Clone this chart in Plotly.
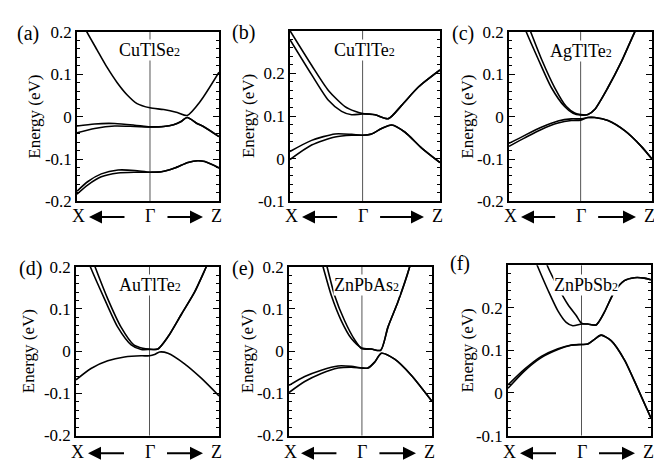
import plotly.graph_objects as go

# ------------------------------------------------------------------ data
PANEL_TAGS = ["(a)", "(b)", "(c)", "(d)", "(e)", "(f)"]
COMPOUNDS = ["CuTlSe", "CuTlTe", "AgTlTe", "AuTlTe", "ZnPbAs", "ZnPbSb"]
K_LABELS = ["X", "Γ", "Z"]
GAMMA_POS = [0.514, 0.484, 0.501, 0.514, 0.510, 0.514]
Y_RANGES = [(-0.2, 0.2), (-0.1, 0.3), (-0.2, 0.2), (-0.2, 0.2), (-0.2, 0.2), (-0.1, 0.3)]
Y_TICKVALS_A = [-0.2, -0.1, 0.0, 0.1, 0.2]
Y_TICKTEXT_A = ["-0.2", "-0.1", "0", "0.1", "0.2"]
Y_TICKVALS_B = [-0.1, 0.0, 0.1, 0.2, 0.3]
Y_TICKTEXT_B = ["-0.1", "0", "0.1", "0.2", ""]

# (a) CuTlSe2
a_cb_k = [0.0, 0.070, 0.141, 0.211, 0.282, 0.352, 0.423, 0.514, 0.61, 0.706, 0.776, 0.87, 1.0]
a_cb_e = [0.245, 0.2, 0.158, 0.117, 0.081, 0.052, 0.031, 0.021, 0.017, 0.010, 0.003, 0.037, 0.105]
a_v_k = [0.0, 0.124, 0.265, 0.406, 0.514, 0.61, 0.68, 0.73, 0.776, 0.845, 0.89, 1.0]
a_v1_e = [-0.022, -0.017, -0.016, -0.020, -0.024, -0.023, -0.019, -0.012, -0.002, -0.016, -0.023, -0.047]
a_v2_e = [-0.038, -0.028, -0.022, -0.023, -0.024, -0.023, -0.019, -0.012, -0.002, -0.016, -0.023, -0.047]
a_l_k = [0.0, 0.077, 0.171, 0.289, 0.406, 0.514, 0.594, 0.688, 0.782, 0.85, 0.9, 1.0]
a_l1_e = [-0.176, -0.153, -0.135, -0.126, -0.127, -0.131, -0.130, -0.121, -0.108, -0.104, -0.106, -0.121]
a_l2_e = [-0.183, -0.161, -0.142, -0.133, -0.131, -0.131, -0.130, -0.121, -0.108, -0.104, -0.106, -0.121]

# (b) CuTlTe2
b_c1_k = [0.0, 0.144, 0.256, 0.367, 0.433, 0.484, 0.567, 0.656, 0.744, 0.856, 1.0]
b_c1_e = [0.300, 0.219, 0.160, 0.122, 0.111, 0.106, 0.103, 0.094, 0.125, 0.168, 0.208]
b_c2_k = [0.0, 0.144, 0.256, 0.344, 0.411, 0.484, 0.567, 0.656, 0.744, 0.856, 1.0]
b_c2_e = [0.279, 0.197, 0.137, 0.111, 0.103, 0.105, 0.103, 0.094, 0.125, 0.168, 0.208]
b_v_k = [0.0, 0.144, 0.300, 0.411, 0.484, 0.544, 0.611, 0.678, 0.767, 0.878, 1.0]
b_v1_e = [0.017, 0.043, 0.058, 0.057, 0.055, 0.058, 0.071, 0.079, 0.062, 0.025, -0.009]
b_v2_e = [-0.002, 0.032, 0.051, 0.055, 0.055, 0.058, 0.071, 0.079, 0.062, 0.025, -0.009]

# (c) AgTlTe2
c_c1_k = [0.086, 0.121, 0.203, 0.296, 0.389, 0.448, 0.501, 0.552, 0.599, 0.692, 0.786, 0.879, 0.92]
c_c1_e = [0.23, 0.2, 0.137, 0.069, 0.024, 0.008, 0.004, 0.005, 0.017, 0.069, 0.130, 0.2, 0.227]
c_c2_k = [0.117, 0.152, 0.226, 0.319, 0.401, 0.459, 0.501, 0.552, 0.599, 0.692, 0.786, 0.879, 0.92]
c_c2_e = [0.23, 0.2, 0.137, 0.069, 0.024, 0.009, 0.005, 0.005, 0.017, 0.069, 0.130, 0.2, 0.227]
c_v_k = [0.0, 0.110, 0.226, 0.343, 0.436, 0.501, 0.552, 0.599, 0.692, 0.809, 0.925, 1.0]
c_v1_e = [-0.063, -0.044, -0.025, -0.010, -0.005, -0.005, -0.002, -0.002, -0.009, -0.033, -0.070, -0.100]
c_v2_e = [-0.070, -0.050, -0.030, -0.015, -0.009, -0.008, -0.002, -0.002, -0.009, -0.033, -0.070, -0.100]

# (d) AuTlTe2
d_c1_k = [0.070, 0.100, 0.199, 0.292, 0.386, 0.456, 0.514, 0.572, 0.643, 0.736, 0.829, 0.911, 0.946]
d_c1_e = [0.226, 0.2, 0.124, 0.057, 0.015, 0.004, 0.004, 0.005, 0.034, 0.087, 0.140, 0.2, 0.226]
d_c2_k = [0.105, 0.133, 0.222, 0.315, 0.404, 0.467, 0.514, 0.572, 0.643, 0.736, 0.829, 0.911, 0.946]
d_c2_e = [0.226, 0.2, 0.124, 0.057, 0.015, 0.007, 0.005, 0.005, 0.034, 0.087, 0.140, 0.2, 0.226]
d_v_k = [0.0, 0.105, 0.222, 0.339, 0.456, 0.514, 0.549, 0.584, 0.643, 0.759, 0.876, 1.0]
d_v_e = [-0.068, -0.041, -0.023, -0.014, -0.011, -0.011, -0.008, -0.002, -0.005, -0.030, -0.064, -0.106]

# (e) ZnPbAs2
e_c1_k = [0.226, 0.238, 0.296, 0.366, 0.436, 0.510, 0.576, 0.641, 0.692, 0.762, 0.844, 0.855]
e_c1_e = [0.214, 0.2, 0.132, 0.072, 0.030, 0.0075, 0.005, 0.002, 0.057, 0.117, 0.2, 0.215]
e_c2_k = [0.254, 0.266, 0.319, 0.389, 0.459, 0.510, 0.576, 0.641, 0.692, 0.762, 0.844, 0.855]
e_c2_e = [0.214, 0.2, 0.132, 0.072, 0.027, 0.0055, 0.005, 0.002, 0.057, 0.117, 0.2, 0.215]
e_v_k = [0.0, 0.110, 0.226, 0.343, 0.436, 0.510, 0.552, 0.599, 0.646, 0.739, 0.855, 1.0]
e_v1_e = [-0.081, -0.060, -0.045, -0.035, -0.036, -0.040, -0.040, -0.026, -0.005, -0.019, -0.057, -0.119]
e_v2_e = [-0.098, -0.072, -0.053, -0.040, -0.038, -0.040, -0.040, -0.026, -0.005, -0.019, -0.057, -0.119]

# (f) ZnPbSb2
f_c1_k = [0.191, 0.209, 0.279, 0.349, 0.407, 0.453, 0.514, 0.558, 0.616, 0.674, 0.744, 0.814, 0.884, 0.953, 1.0]
f_c1_e = [0.311, 0.296, 0.242, 0.193, 0.166, 0.158, 0.162, 0.162, 0.160, 0.190, 0.238, 0.264, 0.271, 0.270, 0.266]
f_c2_k = [0.263, 0.279, 0.349, 0.419, 0.477, 0.514, 0.558, 0.616, 0.674, 0.744, 0.814, 0.884, 0.953, 1.0]
f_c2_e = [0.311, 0.296, 0.249, 0.208, 0.182, 0.164, 0.162, 0.160, 0.190, 0.238, 0.264, 0.271, 0.270, 0.266]
f_v_k = [0.0, 0.116, 0.233, 0.349, 0.442, 0.514, 0.558, 0.605, 0.651, 0.721, 0.814, 0.907, 1.0]
f_v1_e = [0.019, 0.056, 0.086, 0.104, 0.113, 0.114, 0.115, 0.126, 0.136, 0.123, 0.078, 0.011, -0.059]
f_v2_e = [0.011, 0.052, 0.083, 0.102, 0.112, 0.114, 0.115, 0.126, 0.136, 0.123, 0.078, 0.011, -0.059]

BANDS = [
    [(a_cb_k, a_cb_e), (a_v_k, a_v1_e), (a_v_k, a_v2_e), (a_l_k, a_l1_e), (a_l_k, a_l2_e)],
    [(b_c1_k, b_c1_e), (b_c2_k, b_c2_e), (b_v_k, b_v1_e), (b_v_k, b_v2_e)],
    [(c_c1_k, c_c1_e), (c_c2_k, c_c2_e), (c_v_k, c_v1_e), (c_v_k, c_v2_e)],
    [(d_c1_k, d_c1_e), (d_c2_k, d_c2_e), (d_v_k, d_v_e)],
    [(e_c1_k, e_c1_e), (e_c2_k, e_c2_e), (e_v_k, e_v1_e), (e_v_k, e_v2_e)],
    [(f_c1_k, f_c1_e), (f_c2_k, f_c2_e), (f_v_k, f_v1_e), (f_v_k, f_v2_e)],
]

# ------------------------------------------------------------------ layout geometry (pixels)
W, H = 662, 462
BOX = [(69, 211, 15.7, 192.3), (282, 432, 14.3, 192.3), (501, 644, 15.7, 192.3),
       (68, 211, 260.5, 436.5), (281, 424, 260.5, 436.5), (500, 643, 259, 436.5)]
TAG_POS = [(20, 17), (235, 16), (455, 17), (22, 262), (235, 262), (452, 257)]
NAME_POS = [(141.5, 34), (356, 34), (573, 35), (142, 280), (358, 279), (578, 279)]
YTITLE_X = [27, 240, 460, 20, 239, 459]
KLABEL_Y = [207.5, 207.5, 207.5, 454, 454, 454]

FONT = "Liberation Serif"

fig = go.Figure()
annotations = []
shapes = []


def px2x(p):
    return p / W


def px2y(p):
    return 1 - p / H


def label(text, x, y, size, **kw):
    d = dict(text=text, x=px2x(x), y=px2y(y), xref="paper", yref="paper",
             xanchor="center", yanchor="middle", showarrow=False,
             font=dict(family=FONT, size=size, color="black"))
    d.update(kw)
    return d


for i in range(6):
    n = i + 1
    xa = "x" if n == 1 else f"x{n}"
    ya = "y" if n == 1 else f"y{n}"
    l, r, t, b = BOX[i]
    g = GAMMA_POS[i]
    for k, e in BANDS[i]:
        fig.add_trace(go.Scatter(x=k, y=e, mode="lines", xaxis=xa, yaxis=ya,
                                 line=dict(color="black", width=1.6, shape="spline", smoothing=0.7),
                                 showlegend=False, hoverinfo="skip"))
    if Y_RANGES[i][1] > 0.25:
        tv, tt = Y_TICKVALS_B, Y_TICKTEXT_B
    else:
        tv, tt = Y_TICKVALS_A, Y_TICKTEXT_A
    fig.update_layout({
        f"xaxis{'' if n == 1 else n}": dict(
            domain=[px2x(l), px2x(r)], range=[0, 1], anchor=ya,
            showline=True, mirror=True, linecolor="black", linewidth=1.5,
            ticks="", showticklabels=False, showgrid=False, zeroline=False, fixedrange=True),
        f"yaxis{'' if n == 1 else n}": dict(
            domain=[px2y(b), px2y(t)], range=list(Y_RANGES[i]), anchor=xa,
            tickvals=tv, ticktext=tt, ticks="inside", ticklen=6, tickwidth=1, tickcolor="black",
            mirror="allticks", showline=True, linecolor="black", linewidth=1.5,
            minor=dict(ticks="inside", ticklen=3, tickwidth=1, dtick=0.02, tick0=0, tickcolor="black"),
            tickfont=dict(family=FONT, size=17, color="black"), ticklabelstandoff=0,
            showgrid=False, zeroline=False, fixedrange=True),
    })
    # Gamma line
    shapes.append(dict(type="line", xref=xa, yref=f"{ya} domain", x0=g, x1=g, y0=0, y1=1,
                       line=dict(color="#555555", width=1), layer="below"))
    annotations.append(label(PANEL_TAGS[i], TAG_POS[i][0], TAG_POS[i][1], 20))
    annotations.append(label(COMPOUNDS[i] + "<span style='font-size:12px'>2</span>",
                             NAME_POS[i][0], NAME_POS[i][1], 18, bgcolor="white", borderpad=0))
    annotations.append(label("Energy (eV)", YTITLE_X[i], (t + b) / 2, 17, textangle=-90))
    gx = l + g * (r - l)
    ky = KLABEL_Y[i]
    for lab, xp in zip(K_LABELS, [l + 1, gx, r - 3]):
        annotations.append(label(lab, xp, ky, 18))
    # arrows
    lh, lt = l + 12, gx - 24
    rt, rh = gx + 16, r - 16
    annotations.append(dict(text="", x=px2x(lh), y=px2y(ky + 1), xref="paper", yref="paper",
                            showarrow=True, ax=lt - lh, ay=0, arrowhead=2, arrowsize=1.3,
                            arrowwidth=2, arrowcolor="black", standoff=0, startstandoff=0))
    annotations.append(dict(text="", x=px2x(rh), y=px2y(ky + 1), xref="paper", yref="paper",
                            showarrow=True, ax=rt - rh, ay=0, arrowhead=2, arrowsize=1.3,
                            arrowwidth=2, arrowcolor="black", standoff=0, startstandoff=0))

fig.update_layout(width=W, height=H, margin=dict(l=0, r=0, t=0, b=0),
                  paper_bgcolor="white", plot_bgcolor="white",
                  annotations=annotations, shapes=shapes, showlegend=False)

fig.write_html("out.html")
